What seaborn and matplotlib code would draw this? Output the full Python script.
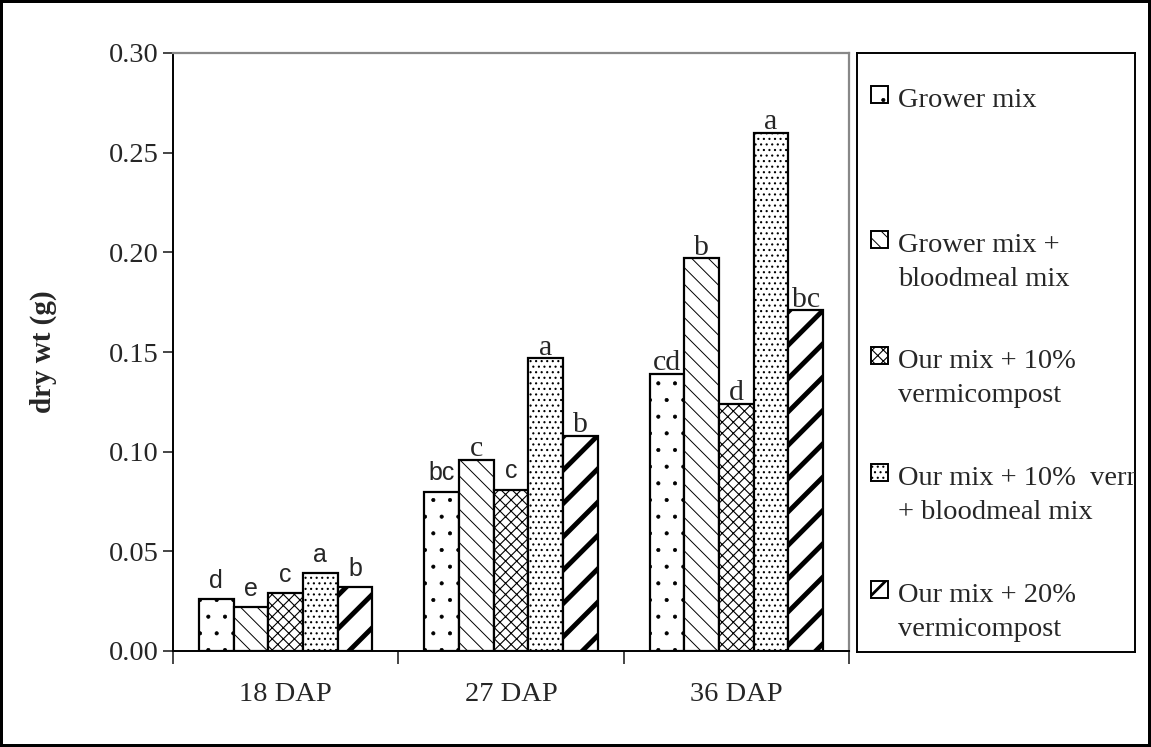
import matplotlib
matplotlib.use("Agg")
import matplotlib.pyplot as plt
import pandas as pd
import seaborn as sns
from matplotlib.patches import Rectangle
from matplotlib.ticker import FormatStrFormatter, FixedLocator

DAYS = ["18 DAP", "27 DAP", "36 DAP"]
TREATMENTS = [
    "Grower mix",
    "Grower mix +\nbloodmeal mix",
    "Our mix + 10%\nvermicompost",
    "Our mix + 10%  verm\n+ bloodmeal mix",
    "Our mix + 20%\nvermicompost",
]

grower_mix = [0.026, 0.080, 0.139]
grower_bloodmeal = [0.022, 0.096, 0.197]
our_10_verm = [0.029, 0.081, 0.124]
our_10_verm_bloodmeal = [0.039, 0.147, 0.260]
our_20_verm = [0.032, 0.108, 0.171]

letters_grower = ["d", "bc", "cd"]
letters_grower_bloodmeal = ["e", "c", "b"]
letters_10 = ["c", "c", "d"]
letters_10_bloodmeal = ["a", "a", "a"]
letters_20 = ["b", "b", "bc"]

# the original mixes Arial and Times letters; True = serif
serif_grower = [False, False, True]
serif_grower_bloodmeal = [False, True, True]
serif_10 = [False, False, True]
serif_10_bloodmeal = [False, True, True]
serif_20 = [False, True, True]

HATCHES = [".", "\\\\", "xxx", "...", "/"]
HATCH_LW = [0.5, 0.7, 0.8, 0.8, 3.5]

SERIF = "Liberation Serif"
SANS = "Liberation Sans"

series = [grower_mix, grower_bloodmeal, our_10_verm, our_10_verm_bloodmeal, our_20_verm]
letters = [letters_grower, letters_grower_bloodmeal, letters_10, letters_10_bloodmeal, letters_20]
serif_flags = [serif_grower, serif_grower_bloodmeal, serif_10, serif_10_bloodmeal, serif_20]

rows = []
for name, vals in zip(TREATMENTS, series):
    for day, v in zip(DAYS, vals):
        rows.append({"day": day, "treatment": name, "dry_wt": v})
df = pd.DataFrame(rows)

sns.set_style("white")
plt.rcParams["font.family"] = [SERIF, "DejaVu Sans"]
plt.rcParams["hatch.linewidth"] = 1.0

fig = plt.figure(figsize=(11.51, 7.47), dpi=100)
fig.patch.set_edgecolor("black")
fig.patch.set_linewidth(3)
ax = fig.add_axes([173 / 1151, 1 - 651 / 747, 676 / 1151, 598 / 747])

sns.barplot(data=df, x="day", y="dry_wt", hue="treatment", order=DAYS,
            hue_order=TREATMENTS, palette=["white"] * 5, edgecolor="black",
            linewidth=1.6, width=0.77, saturation=1, legend=False, ax=ax)

for i, cont in enumerate(ax.containers):
    for j, bar in enumerate(cont):
        bar.set_hatch(HATCHES[i])
        if hasattr(bar, "set_hatch_linewidth"):
            bar.set_hatch_linewidth(HATCH_LW[i])
        serif = serif_flags[i][j]
        ax.annotate(letters[i][j],
                    (bar.get_x() + bar.get_width() / 2, bar.get_height()),
                    xytext=(0, 2.5 if serif else 8), textcoords="offset points",
                    ha="center", va="baseline",
                    family=SERIF if serif else SANS,
                    fontsize=21.5 if serif else 18)

ax.set_ylim(0, 0.30)
ax.set_xlim(-0.5, 2.5)
ax.set_yticks([0, 0.05, 0.10, 0.15, 0.20, 0.25, 0.30])
ax.yaxis.set_major_formatter(FormatStrFormatter("%.2f"))
ax.tick_params(axis="y", direction="out", length=7, width=1.2, labelsize=20.5, pad=3, left=True)
ax.tick_params(axis="x", which="major", length=0, labelsize=20.5, pad=22)
ax.xaxis.set_minor_locator(FixedLocator([-0.5, 0.5, 1.5, 2.5]))
ax.tick_params(axis="x", which="minor", direction="out", length=9, width=1.2, bottom=True)
for lab in ax.get_xticklabels() + ax.get_yticklabels():
    lab.set_family(SERIF)

ax.set_xlabel("")
ax.set_ylabel("dry wt (g)", fontsize=21, fontweight="bold", family=SERIF)
ax.yaxis.set_label_coords(-0.172, 0.5)

for side in ["left", "bottom"]:
    ax.spines[side].set_color("black")
    ax.spines[side].set_linewidth(1.4)
for side in ["top", "right"]:
    ax.spines[side].set_color("#888888")
    ax.spines[side].set_linewidth(1.6)
    ax.spines[side].set_visible(True)

# legend box, in pixel units
leg = fig.add_axes([857 / 1151, 1 - 652 / 747, 278 / 1151, 599 / 747])
leg.set_xlim(0, 278)
leg.set_ylim(599, 0)
leg.set_xticks([])
leg.set_yticks([])
for s in leg.spines.values():
    s.set_color("black")
    s.set_linewidth(1.4)
    s.set_visible(True)

entry_y = [45, 190, 306, 423, 540]
for i, (name, y) in enumerate(zip(TREATMENTS, entry_y)):
    sq = Rectangle((14, y - 12), 17, 17, facecolor="white", edgecolor="black",
                   linewidth=1.4, hatch=HATCHES[i])
    if hasattr(sq, "set_hatch_linewidth"):
        sq.set_hatch_linewidth(min(HATCH_LW[i], 2.0))
    leg.add_patch(sq)
    leg.text(41, y - 10, name, fontsize=20.5, family=SERIF, va="top", ha="left",
             linespacing=1.45, clip_on=True)

fig.savefig("out.png", dpi=100)
